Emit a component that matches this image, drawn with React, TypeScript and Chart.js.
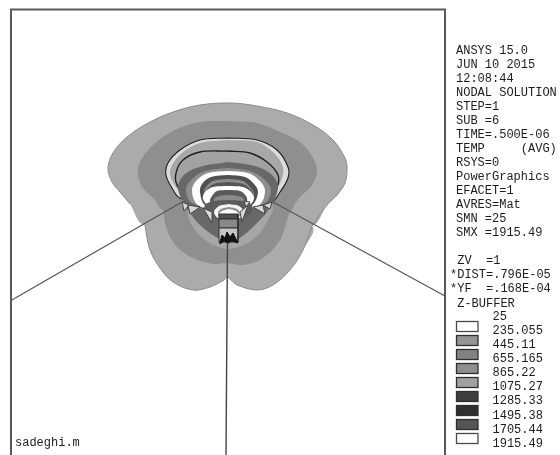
import React, { useEffect, useRef } from "react";
import { Chart, registerables } from "chart.js";

Chart.register(...registerables);

type Pt = [number, number];

const infoLines = ["ANSYS 15.0","JUN 10 2015","12:08:44","NODAL SOLUTION","STEP=1","SUB =6","TIME=.500E-06","TEMP     (AVG)","RSYS=0","PowerGraphics","EFACET=1","AVRES=Mat","SMN =25","SMX =1915.49"];
const viewLines = [" ZV  =1","*DIST=.796E-05","*YF  =.168E-04"," Z-BUFFER"];
const legendValues = ["25","235.055","445.11","655.165","865.22","1075.27","1285.33","1495.38","1705.44","1915.49"];
const legendColors = ["#ffffff","#959595","#828282","#8e8e8e","#a0a0a0","#3e3e3e","#303030","#555555","#ffffff"];
const authorLabel = "sadeghi.m";

const frame: Pt[] = [[11,455],[11,9.5],[445,9.5],[445,455]];
const legLeft: Pt[] = [[11,300.5],[182,202]];
const legRight: Pt[] = [[273,202],[445,296]];
const legCenter: Pt[] = [[227.5,240],[226,455]];

const lowerOuter: Pt[] = [[145,226],[150,250],[160,268],[173,282],[193,290],[210,287],[224,280],[227,277],[231,280],[237,285],[257,290],[273,285],[290,270],[303,250],[312,226],[228,190],[145,226]];
const upperOuter: Pt[] = [[130,204],[120,192],[112,182],[108,168],[113,153],[127,137],[150,122],[173,112],[200,105],[230,103],[257,106],[287,113],[313,125],[333,140],[345,158],[347,168],[345,183],[337,195],[327,205],[312,226],[228,235],[145,226],[130,204]];
const lowerMid: Pt[] = [[163,210],[167,230],[177,247],[193,258],[213,264],[227,263],[243,265],[263,258],[280,240],[288,217],[293,203],[228,190],[163,210]];
const upperMid: Pt[] = [[228,121],[257,123],[280,132],[300,142],[313,158],[317,172],[312,185],[300,197],[293,205],[228,225],[163,210],[155,200],[143,188],[138,175],[140,162],[153,145],[173,131],[200,122],[228,121]];
const lowerHalo: Pt[] = [[187,205],[190,222],[205,240],[222,248],[235,248],[255,238],[268,220],[272,205],[228,190],[187,205]];
const ringA: Pt[] = [[228,138],[257,140],[277,150],[288,167],[288,178],[280,192],[272,202],[228,212],[180,198],[172,188],[166,175],[168,163],[180,150],[200,140],[228,138]];
const ringAInner: Pt[] = [[228,140],[257,142],[274,153],[283,167],[282,178],[276,190],[268,200],[228,210],[186,198],[176,187],[170,175],[172,165],[182,153],[200,143],[228,140]];
const ringB: Pt[] = [[228,151],[250,153],[267,162],[278,175],[277,188],[270,197],[228,208],[187,197],[177,185],[176,173],[183,160],[200,152],[228,151]];
const darkV: Pt[] = [[228,162],[255,166],[272,175],[278,187],[271,206],[255,225],[236,240],[222,240],[200,225],[185,205],[178,187],[185,174],[203,166],[228,162]];
const band1: Pt[] = [[228,168],[250,171],[264,179],[271,190],[265,203],[228,212],[192,203],[186,190],[192,179],[205,171],[228,168]];
const band2White: Pt[] = [[228,171],[248,173],[260,181],[265,191],[259,205],[228,212],[198,205],[192,191],[196,181],[208,173],[228,171]];
const band3: Pt[] = [[228,175],[245,177],[254,184],[258,192],[252,205],[228,212],[205,205],[200,192],[202,184],[211,177],[228,175]];
const band4: Pt[] = [[228,179],[243,181],[250,187],[254,194],[250,205],[228,212],[208,205],[204,194],[206,187],[213,181],[228,179]];
const band5: Pt[] = [[228,182],[243,184],[251,190],[253,196],[248,206],[228,212],[209,206],[204,196],[206,190],[214,184],[228,182]];
const band6White: Pt[] = [[228,186],[243,187],[251,192],[254,199],[247,207],[228,212],[210,207],[203,199],[205,192],[213,187],[228,186]];
const band7: Pt[] = [[228,190],[240,191],[246,196],[247,201],[242,207],[228,212],[214,207],[210,201],[212,196],[217,191],[228,190]];
const band8: Pt[] = [[228,195],[238,196],[244,199],[243,204],[228,208],[215,204],[214,199],[219,196],[228,195]];
const band9: Pt[] = [[228,200],[242,201],[252,205],[250,214],[228,222],[206,214],[205,205],[214,201],[228,200]];
const capWhite: Pt[] = [[229,204],[239,206],[244,212],[240,218],[229,220],[218,218],[214,212],[219,206],[229,204]];
const capGray: Pt[] = [[229,207],[237,209],[240,213],[238,218],[229,220],[220,218],[218,213],[221,209],[229,207]];
const capInner: Pt[] = [[229,209],[236,211],[239,215],[229,220],[219,215],[222,211],[229,209]];
const stemTop: Pt[] = [[219,214],[238,214],[238,219],[219,219],[219,214]];
const stemMid: Pt[] = [[219,219],[238,219],[238,228],[219,228],[219,219]];
const stemLow: Pt[] = [[219,228],[238,228],[238,242],[219,242],[219,228]];
const blackBlob: Pt[] = [[220,242],[222,235],[225,238],[227,232],[230,237],[233,233],[236,239],[238,243],[232,241],[228,243],[224,241],[220,244],[220,242]];

const teeth: Pt[][] = [
  [[182,202],[184,211],[189,205],[182,202]],
  [[188,205],[190,214],[200,207],[188,205]],
  [[203,208],[212,223],[212,212],[203,208]],
  [[272,202],[270,209],[263,205],[272,202]],
  [[263,205],[265,214],[253,207],[263,205]],
  [[248,205],[242,222],[240,212],[248,205]],
  [[244,201],[246,207],[250,202],[244,201]],
];

const makeShape = (points: Pt[], fillColor: string, stroke = "rgba(0,0,0,0)", width = 0, tension = 0.35) => ({
  data: points.map(([x, y]) => ({ x, y })),
  showLine: true,
  fill: "shape",
  backgroundColor: fillColor,
  borderColor: stroke,
  borderWidth: width,
  tension,
  pointRadius: 0,
});
const makeLine = (points: Pt[], stroke: string, width: number, tension = 0) => ({
  data: points.map(([x, y]) => ({ x, y })),
  showLine: true,
  fill: false,
  borderColor: stroke,
  borderWidth: width,
  tension,
  pointRadius: 0,
});

const sidePanel = {
  id: "sidePanel",
  afterDraw(chart: any) {
    const ctx = chart.ctx;
    ctx.save();
    ctx.font = "12px 'Liberation Mono'";
    ctx.fillStyle = "#1c1c1c";
    ctx.textBaseline = "middle";
    ctx.textAlign = "left";
    infoLines.forEach((t, i) => ctx.fillText(t, 456, 51 + i * 13.95));
    viewLines.forEach((t, i) => ctx.fillText(t, 450, 260.5 + i * 14.4));
    legendValues.forEach((t, i) => ctx.fillText(t, 492.5, 317 + i * 14.05));
    ctx.fillText(authorLabel, 15, 443);
    legendColors.forEach((c, i) => {
      const top = 321 + i * 14;
      ctx.fillStyle = c;
      ctx.fillRect(456, top, 22, 10.5);
      ctx.strokeStyle = c === "#ffffff" ? "#4a4a4a" : "#2e2e2e";
      ctx.lineWidth = 1.3;
      ctx.strokeRect(456.5, top + 0.5, 21.5, 10);
    });
    ctx.restore();
  },
};

export default function App() {
  const ref = useRef<HTMLCanvasElement>(null);
  useEffect(() => {
    const back = [
      makeLine(frame, "#5a5a5a", 2),
      makeShape(lowerOuter, "#ababab"),
      makeShape(upperOuter, "#ababab"),
      makeLine(lowerOuter.slice(0, 15), "#8a8a8a", 1, 0.35),
      makeLine(upperOuter.slice(0, 20), "#8a8a8a", 1, 0.35),
      makeShape(lowerMid, "#8f8f8f"),
      makeShape(upperMid, "#8f8f8f"),
      makeShape(lowerHalo, "#a6a6a6"),
      makeShape(ringA, "#dcdcdc", "#1e1e1e", 1.1),
      makeShape(ringAInner, "#a8a8a8"),
      makeShape(ringB, "#a2a2a2", "#1e1e1e", 1.3),
      makeShape(darkV, "#686868"),
      makeShape(band1, "#8e8e8e"),
      makeShape(band2White, "#ffffff"),
      makeShape(band3, "#505050"),
      makeShape(band4, "#8c8c8c"),
      makeShape(band5, "#555555"),
      makeShape(band6White, "#ffffff"),
      makeShape(band7, "#5a5a5a"),
      makeShape(band8, "#8a8a8a"),
      makeShape(band9, "#5c5c5c"),
      makeShape(capWhite, "#f4f4f4"),
      makeShape(capGray, "#8c8c8c"),
      makeShape(capInner, "#ffffff"),
      makeShape(stemTop, "#505050", "#333333", 1, 0),
      makeShape(stemMid, "#888888", "#333333", 1, 0),
      makeShape(stemLow, "#c4c4c4", "#333333", 1, 0),
      makeLine(legLeft, "#555555", 1.2),
      makeLine(legRight, "#555555", 1.2),
      makeLine(legCenter, "#444444", 1.4),
      ...teeth.map((t) => makeShape(t, "#d8d8d8", "#444444", 1, 0)),
      makeShape(blackBlob, "#111111", "#111111", 1, 0),
    ];
    const datasets = back.map((d, i) => ({ ...d, order: -i }));
    const chart = new Chart(ref.current as HTMLCanvasElement, {
      type: "scatter",
      data: { datasets: datasets as any },
      options: {
        animation: false,
        responsive: false,
        layout: { padding: 0 },
        scales: {
          x: { type: "linear", min: 0, max: 560, display: false },
          y: { type: "linear", min: 0, max: 455, reverse: true, display: false },
        },
        plugins: { legend: { display: false }, tooltip: { enabled: false }, title: { display: false } },
      },
      plugins: [sidePanel],
    });
    return () => chart.destroy();
  }, []);
  return (
    <div style={{ position: "fixed", left: 0, top: 0, width: 560, height: 455, background: "#fff", overflow: "hidden" }}>
      <canvas ref={ref} width={560} height={455} style={{ display: "block", filter: "blur(0.4px)" }} />
    </div>
  );
}
